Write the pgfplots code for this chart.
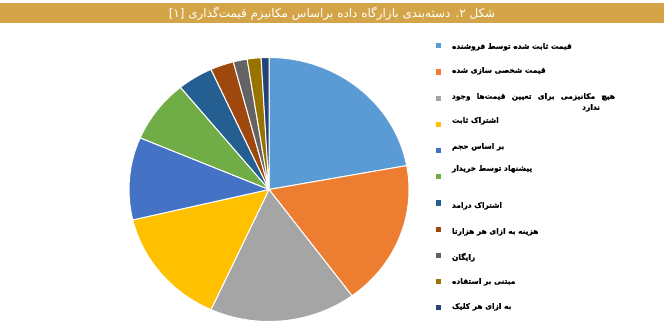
\documentclass[border=0pt]{standalone}
\usepackage{pgfplots}
\pgfplotsset{compat=1.18}
\usepackage{pgfplotstable}
\usepackage{fontspec}
\newfontfamily\fa[Script=Arabic, BoldFeatures={FakeBold=0.8}]{DejaVu Sans}
\TeXXeTstate=1
\definecolor{c0}{HTML}{5B9BD5}
\definecolor{c1}{HTML}{ED7D31}
\definecolor{c2}{HTML}{A5A5A5}
\definecolor{c3}{HTML}{FFC000}
\definecolor{c4}{HTML}{4472C4}
\definecolor{c5}{HTML}{70AD47}
\definecolor{c6}{HTML}{255E91}
\definecolor{c7}{HTML}{9E480E}
\definecolor{c8}{HTML}{636363}
\definecolor{c9}{HTML}{997300}
\definecolor{c10}{HTML}{264478}
\definecolor{titlebar}{HTML}{D4A548}

% share of each pricing mechanism (percent), clockwise from 12 o'clock
\pgfplotstableread{
value
22.1
17.8
16.9
14.5
10.1
7.7
4.1
2.7
1.6
1.6
0.9
}\piedata

\begin{document}
\pgfmathsetmacro\cum{0}%
\pgfplotsforeachungrouped \i in {0,...,10}{%
  \pgfplotstablegetelem{\i}{value}\of\piedata
  \pgfmathsetmacro\sa{90-3.6*\cum}%
  \pgfmathsetmacro\cum{\cum+\pgfplotsretval}%
  \pgfmathsetmacro\ea{90-3.6*\cum}%
  \expandafter\xdef\csname sa\i\endcsname{\sa}%
  \expandafter\xdef\csname ea\i\endcsname{\ea}%
}%
\begin{tikzpicture}[x=1bp,y=1bp]
\useasboundingbox (0,0) rectangle (664,327);
\fill[titlebar] (0,304) rectangle (664,324);
\node[text=white,font=\fa\fontsize{12}{14}\selectfont,inner sep=0pt] at (332,313.5)
  {\beginR شکل ۲. دسته‌بندی بازارگاه داده براساس مکانیزم قیمت‌گذاری \beginL[۱]\endL\endR};
\begin{axis}[
  at={(269bp,137.5bp)}, anchor=center,
  x=140bp, y=132bp,
  xmin=-1, xmax=1, ymin=-1, ymax=1,
  hide axis, clip=false,
  legend image code/.code={\path[fill=none,draw=none] (0bp,-13.1bp) rectangle (16bp,13.1bp); \fill[draw=none] (0bp,-2.6bp) rectangle (5.4bp,2.6bp);},
  legend cell align=left,
  legend style={at={(1.0964,1.0943)}, anchor=north west, draw=none, fill=none,
    inner sep=0pt, outer sep=0pt, row sep=0pt,
    font=\fa\bfseries\fontsize{7.5}{9}\selectfont,
    nodes={inner sep=0pt, outer sep=0pt},
    /tikz/every even column/.style={column sep=0pt}},
]
\pgfplotsinvokeforeach{0,...,10}{%
  \filldraw[fill=c#1, draw=white, line width=1bp, line join=round]
    (axis cs:0,0) -- ++(\csname sa#1\endcsname:140bp and 132bp)
    arc[start angle=\csname sa#1\endcsname, end angle=\csname ea#1\endcsname, x radius=140bp, y radius=132bp] -- cycle;
}
\addlegendimage{color=c0}
\addlegendentry{\smash{\raisebox{-3.8bp}{\beginR قیمت ثابت شده توسط فروشنده\endR}}}
\addlegendimage{color=c1}
\addlegendentry{\smash{\raisebox{-1.6bp}{\beginR قیمت شخصی سازی شده\endR}}}
\addlegendimage{color=c2}
\addlegendentry{\smash{\raisebox{-12.4bp}{\vbox{\baselineskip=11bp
  \hbox to 163bp{\beginR هیچ\hfil مکانیزمی\hfil برای\hfil تعیین\hfil قیمت‌ها\hfil وجود\endR}
  \hbox to 163bp{\hfil\beginR ندارد\endR\hspace*{15bp}}}}}}
\addlegendimage{color=c3}
\addlegendentry{\smash{\raisebox{0.8bp}{\beginR اشتراک ثابت\endR}}}
\addlegendimage{color=c4}
\addlegendentry{\smash{\raisebox{1.0bp}{\beginR بر اساس حجم\endR}}}
\addlegendimage{color=c5}
\addlegendentry{\smash{\raisebox{5.2bp}{\beginR پیشنهاد توسط خریدار\endR}}}
\addlegendimage{color=c6}
\addlegendentry{\smash{\raisebox{-5.6bp}{\beginR اشتراک درامد\endR}}}
\addlegendimage{color=c7}
\addlegendentry{\smash{\raisebox{-5.4bp}{\beginR هزینه به ازای هر هزارتا\endR}}}
\addlegendimage{color=c8}
\addlegendentry{\smash{\raisebox{-5.2bp}{\beginR رایگان\endR}}}
\addlegendimage{color=c9}
\addlegendentry{\smash{\raisebox{-3.0bp}{\beginR مبتنی بر استفاده\endR}}}
\addlegendimage{color=c10}
\addlegendentry{\smash{\raisebox{-1.8bp}{\beginR به ازای هر کلیک\endR}}}
\end{axis}
\end{tikzpicture}
\end{document}
